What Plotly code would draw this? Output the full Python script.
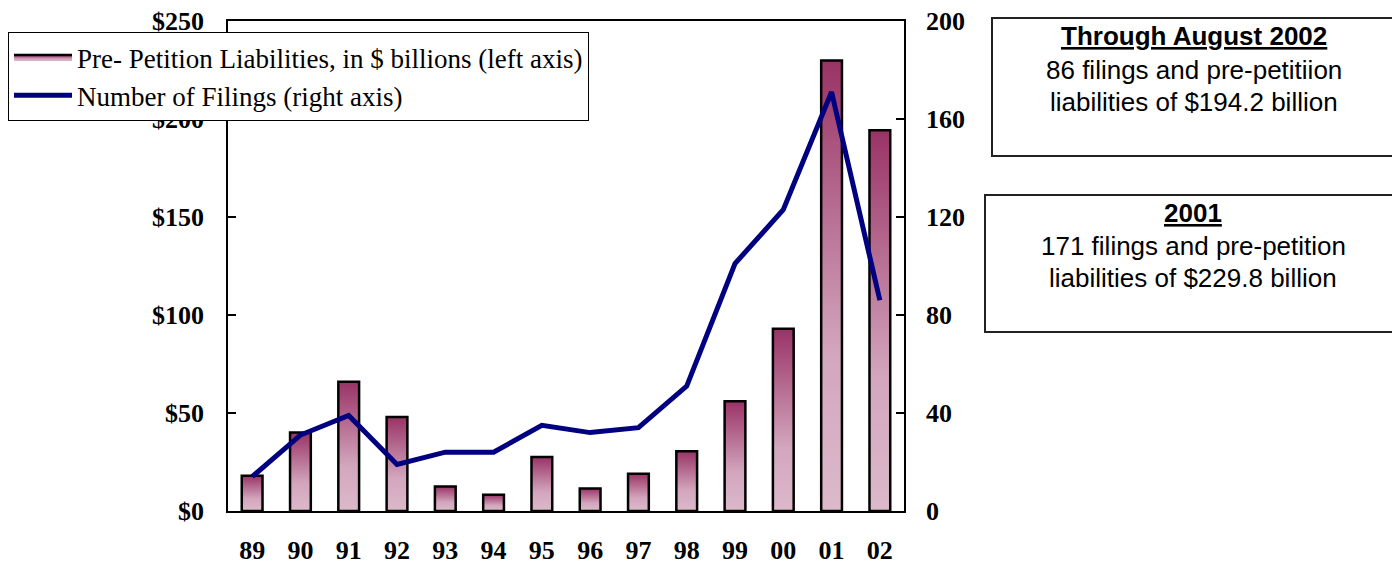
import plotly.graph_objects as go

years = ["89", "90", "91", "92", "93", "94", "95", "96", "97", "98", "99", "00", "01", "02"]
liabilities = [18, 40, 66, 48, 12.5, 8.3, 27.5, 11.5, 19, 30.5, 56, 93, 229.8, 194.2]
filings = [14, 31, 39, 19, 24, 24, 35, 32, 34, 51, 101, 123, 171, 86]
left_ticks = [0, 50, 100, 150, 200, 250]
left_ticktext = ["$0", "$50", "$100", "$150", "$200", "$250"]
right_ticks = [0, 40, 80, 120, 160, 200]

DARK = "#993366"
LIGHT = "#dcb9cb"
NAVY = "#000080"
BAR_HALF = 0.215

# page offset (body margin) and target plot area in page pixels
OFF = 8
L, R, T, B = 228, 904, 21, 511
W, H = 1400 - OFF, 565 - OFF


def px(x):
    return (x - L) / (R - L)


def py(y):
    return (B - y) / (B - T)


fig = go.Figure()

for i, v in enumerate(liabilities):
    xs = [i - BAR_HALF, i - BAR_HALF, i + BAR_HALF, i + BAR_HALF, i - BAR_HALF]
    ys = [0, v, v, 0, 0]
    fig.add_trace(go.Scatter(
        x=xs, y=ys, mode="lines", fill="toself",
        line=dict(color="black", width=2.5),
        fillgradient=dict(type="vertical",
                          colorscale=[[0, LIGHT], [0.35, "#d3a6bd"], [1, DARK]],
                          start=0, stop=v),
        name="Pre- Petition Liabilities, in $ billions (left axis)",
        legendgroup="liab", showlegend=(i == 0), hoverinfo="skip",
        yaxis="y",
    ))

fig.add_trace(go.Scatter(
    x=list(range(len(years))), y=filings, mode="lines",
    line=dict(color=NAVY, width=5),
    name="Number of Filings (right axis)", yaxis="y2",
))

axis_font = dict(family="Liberation Serif", size=26, color="black", weight="bold")

fig.update_layout(
    template="none",
    width=W, height=H,
    margin=dict(l=L - OFF, r=W - (R - OFF), t=T - OFF, b=H - (B - OFF),
                pad=0, autoexpand=False),
    paper_bgcolor="white", plot_bgcolor="white",
    showlegend=True,
    legend=dict(
        x=px(8), y=py(32), xanchor="left", yanchor="top",
        bgcolor="white", bordercolor="black", borderwidth=1,
        font=dict(family="Liberation Serif", size=27, color="black"),
        itemwidth=58, tracegroupgap=0,
    ),
    xaxis=dict(
        range=[-0.5, len(years) - 0.5],
        tickvals=list(range(len(years))), ticktext=years,
        tickfont=axis_font, ticks="", showgrid=False, zeroline=False,
        showline=True, linecolor="black", linewidth=1.5, mirror=True,
        ticklabelstandoff=15, automargin=False, ticklabeloverflow="allow",
    ),
    yaxis=dict(
        range=[0, 250], tickvals=left_ticks, ticktext=left_ticktext,
        tickfont=axis_font, ticks="inside", ticklen=8, tickcolor="black",
        tickwidth=1.5, showgrid=False, zeroline=False,
        showline=True, linecolor="black", linewidth=1.5,
        ticklabelstandoff=17, automargin=False, ticklabeloverflow="allow",
    ),
    yaxis2=dict(
        range=[0, 200], tickvals=right_ticks, overlaying="y", side="right",
        tickfont=axis_font, ticks="inside", ticklen=8, tickcolor="black",
        tickwidth=1.5, showgrid=False, zeroline=False,
        showline=True, linecolor="black", linewidth=1.5,
        ticklabelstandoff=15, automargin=False, ticklabeloverflow="allow",
    ),
)

# text boxes on the right
box_line = dict(color="#222222", width=2)
fig.add_shape(type="rect", xref="paper", yref="paper",
              x0=px(992), x1=px(1397), y0=py(156), y1=py(18), line=box_line,
              fillcolor="white")
fig.add_shape(type="rect", xref="paper", yref="paper",
              x0=px(985), x1=px(1405), y0=py(332), y1=py(195), line=box_line,
              fillcolor="white")

box_font = dict(family="Liberation Sans", size=26, color="black")
box_texts = [
    ("<b><u>Through August 2002</u></b>", 1194, 36),
    ("86 filings and pre-petitiion", 1194, 70),
    ("liabilities of $194.2 billion", 1194, 102),
    ("<b><u>2001</u></b>", 1193, 213),
    ("171 filings and pre-petition", 1193, 246),
    ("liabilities of $229.8 billion", 1193, 278),
]
for txt, x, y in box_texts:
    fig.add_annotation(text=txt, xref="paper", yref="paper", x=px(x), y=py(y),
                       xanchor="center", yanchor="middle", showarrow=False,
                       font=box_font)

fig.write_html("out.html")
